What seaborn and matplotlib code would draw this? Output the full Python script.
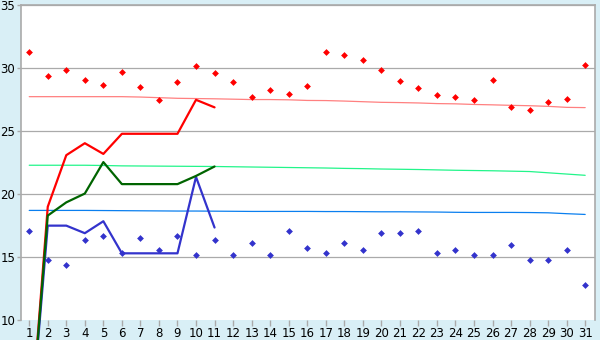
import matplotlib
matplotlib.use("Agg")
import matplotlib.pyplot as plt
import seaborn as sns
import pandas as pd
import numpy as np

days = list(range(1, 32))

max_temps = [31.3, 29.4, 29.9, 29.1, 28.7, 29.7, 28.55, 27.5, 28.95, 30.15,
             29.6, 28.95, 27.75, 28.25, 28.0, 28.6, 31.3, 31.1, 30.7, 29.9,
             29.0, 28.4, 27.9, 27.75, 27.5, 29.1, 26.9, 26.7, 27.3, 27.6, 30.3]
min_temps = [17.1, 14.75, 14.35, 16.35, 16.7, 15.3, 16.5, 15.55, 16.7, 15.15,
             16.35, 15.2, 16.1, 15.15, 17.05, 15.7, 15.3, 16.1, 15.55, 16.9,
             16.9, 17.1, 15.3, 15.55, 15.15, 15.15, 15.95, 14.75, 14.75, 15.55, 12.75]

normal_max = [27.75, 27.75, 27.75, 27.75, 27.75, 27.75, 27.72, 27.67, 27.62, 27.6,
              27.58, 27.55, 27.52, 27.52, 27.5, 27.45, 27.44, 27.4, 27.35, 27.3,
              27.28, 27.25, 27.2, 27.18, 27.13, 27.1, 27.06, 27.03, 26.98, 26.9, 26.88]
normal_avg = [22.3, 22.3, 22.3, 22.3, 22.28, 22.25, 22.24, 22.23, 22.22, 22.21,
              22.2, 22.18, 22.16, 22.14, 22.12, 22.1, 22.08, 22.05, 22.03, 22.0,
              21.98, 21.96, 21.93, 21.9, 21.88, 21.86, 21.83, 21.8, 21.7, 21.6, 21.5]
normal_min = [18.71, 18.71, 18.71, 18.71, 18.7, 18.69, 18.68, 18.67, 18.66, 18.66,
              18.65, 18.64, 18.63, 18.63, 18.63, 18.63, 18.62, 18.62, 18.61, 18.6,
              18.6, 18.59, 18.58, 18.56, 18.55, 18.55, 18.55, 18.54, 18.52, 18.45, 18.39]

line_days = list(range(1, 12))
run_max = [0, 19.0, 23.1, 24.05, 23.2, 24.8, 24.8, 24.8, 24.8, 27.5, 26.9]
run_avg = [0, 18.3, 19.35, 20.05, 22.55, 20.8, 20.8, 20.8, 20.8, 21.45, 22.2]
run_min = [0, 17.5, 17.5, 16.9, 17.85, 15.3, 15.3, 15.3, 15.3, 21.37, 17.35]

y_ticks = [10, 15, 20, 25, 30, 35]

bg = "#D9EFF6"
grid_c = "#AAAAAA"

sns.set_theme(style="white")
plt.rcParams['font.family'] = ['DejaVu Sans']

fig = plt.figure(figsize=(6, 3.4), dpi=100, facecolor=bg)
ax = fig.add_axes([0.0345, 0.0588, 0.9575, 0.9252])
ax.set_facecolor("white")

df_norm = pd.DataFrame({"day": days, "nmax": normal_max, "navg": normal_avg,
                        "nmin": normal_min, "tmax": max_temps, "tmin": min_temps})
df_run = pd.DataFrame({"day": line_days, "rmax": run_max, "ravg": run_avg, "rmin": run_min})

for y in y_ticks[1:]:
    ax.axhline(y, color=grid_c, lw=0.9, zorder=0)

sns.lineplot(data=df_norm, x="day", y="nmax", ax=ax, color="#FF8080", lw=0.9, zorder=2)
sns.lineplot(data=df_norm, x="day", y="navg", ax=ax, color="#22F58A", lw=0.9, zorder=2)
sns.lineplot(data=df_norm, x="day", y="nmin", ax=ax, color="#0A7FEF", lw=0.9, zorder=2)

for col, c in [("rmax", "#FF0000"), ("rmin", "#3333CC"), ("ravg", "#006400")]:
    sns.lineplot(data=df_run, x="day", y=col, ax=ax, color=c, lw=1.6, zorder=3)

for ln in ax.lines[-3:]:
    ln.set_clip_on(False)

sns.scatterplot(data=df_norm, x="day", y="tmax", ax=ax, color="#FF0000", marker="D",
                s=12, linewidth=0, zorder=4)
sns.scatterplot(data=df_norm, x="day", y="tmin", ax=ax, color="#3333CC", marker="D",
                s=12, linewidth=0, zorder=4)

ax.set_xlim(0.54, 31.54)
ax.set_ylim(10, 35)
ax.set_xticks(days)
ax.set_xticklabels([str(d) for d in days])
ax.set_yticks(y_ticks)
ax.set_xlabel("")
ax.set_ylabel("")

for s in ["left", "right", "top"]:
    ax.spines[s].set_visible(True)
    ax.spines[s].set_color(grid_c)
    ax.spines[s].set_linewidth(1.2)
ax.spines["bottom"].set_visible(False)

ax.tick_params(axis="x", length=4, width=1, color=grid_c, direction="out",
               labelsize=8.5, pad=1, bottom=True, labelcolor="black")
ax.tick_params(axis="y", length=3, width=1, color=grid_c, direction="out",
               labelsize=8.5, pad=1, left=True, labelcolor="black")

fig.savefig("out.png", dpi=100, facecolor=bg)
